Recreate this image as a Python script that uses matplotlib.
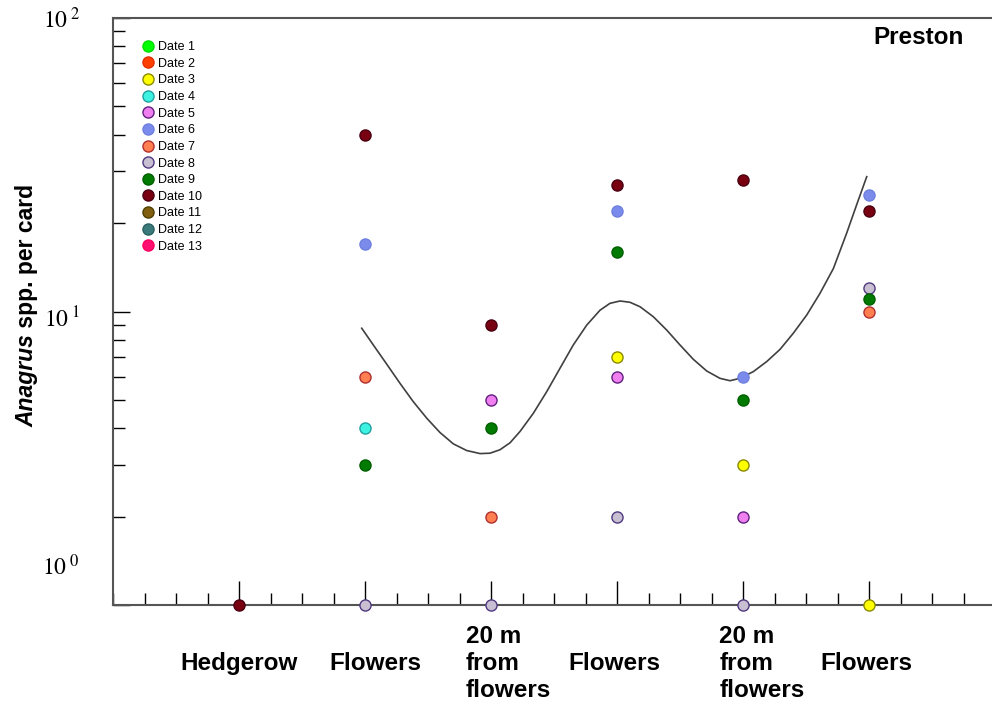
"""
Anagrus spp. per card at Preston, by trap location and sampling date.
"""

import numpy as np
import matplotlib
matplotlib.use("Agg")
import matplotlib.pyplot as plt
from matplotlib.ticker import FixedLocator, MultipleLocator, NullFormatter
import matplotlib.transforms as mtransforms

plt.rcParams["font.family"] = ["Liberation Sans", "DejaVu Sans"]
plt.rcParams["mathtext.fontset"] = "stix"

nan = np.nan

# trap positions along the transect
sites = [1, 2, 3, 4, 5, 6]
site_labels = ["Hedgerow", "Flowers", "20 m\nfrom\nflowers", "Flowers",
               "20 m\nfrom\nflowers", "Flowers"]

date_labels = [f"Date {i}" for i in range(1, 14)]

# Anagrus per card for each date (nan = no card shown)
date1_counts = [nan, nan, nan, nan, nan, nan]
date2_counts = [nan, nan, nan, nan, nan, nan]
date3_counts = [nan, nan, nan, 7, 3, 1]
date4_counts = [nan, 4, nan, nan, nan, nan]
date5_counts = [nan, nan, 5, 6, 2, nan]
date6_counts = [nan, 17, nan, 22, 6, 25]
date7_counts = [nan, 6, 2, nan, nan, 10]
date8_counts = [nan, 1, 1, 2, 1, 12]
date9_counts = [nan, 3, 4, 16, 5, 11]
date10_counts = [1, 40, 9, 27, 28, 22]
date11_counts = [nan, nan, nan, nan, nan, nan]
date12_counts = [nan, nan, nan, nan, nan, nan]
date13_counts = [nan, nan, nan, nan, nan, nan]

# fitted trend line
trend_x = [1.974, 2.066, 2.172, 2.278, 2.383, 2.490, 2.595, 2.701, 2.807,
           2.913, 2.992, 3.071, 3.151, 3.230, 3.336, 3.442, 3.548, 3.653,
           3.760, 3.865, 3.944, 4.024, 4.103, 4.183, 4.288, 4.394, 4.500,
           4.606, 4.712, 4.817, 4.897, 4.976, 5.082, 5.188, 5.294, 5.399,
           5.506, 5.611, 5.717, 5.823, 5.902, 5.982]
trend_y = [8.77, 7.69, 6.62, 5.69, 4.93, 4.33, 3.87, 3.54, 3.36, 3.28, 3.29,
           3.38, 3.57, 3.90, 4.50, 5.33, 6.41, 7.69, 8.99, 10.10, 10.66,
           10.86, 10.75, 10.38, 9.60, 8.65, 7.69, 6.87, 6.27, 5.92, 5.81,
           5.92, 6.24, 6.75, 7.43, 8.43, 9.73, 11.53, 14.0, 18.5, 23.1, 28.8]

face_colors = ["#00ff00", "#ff4000", "#ffff00", "#3ef2e2", "#f080f0",
               "#7b8beb", "#ff7f50", "#c8c0d2", "#007a00", "#780010",
               "#806010", "#3a7a7a", "#ff1070"]
edge_colors = ["#00dd00", "#e03000", "#8a8a00", "#20a0a0", "#602080",
               "#7080e0", "#b03030", "#503880", "#006000", "#4a0010",
               "#504000", "#2a6060", "#ff0060"]

all_counts = [date1_counts, date2_counts, date3_counts, date4_counts,
              date5_counts, date6_counts, date7_counts, date8_counts,
              date9_counts, date10_counts, date11_counts, date12_counts,
              date13_counts]

fig = plt.figure(figsize=(9.92, 7.13), dpi=100)
ax = fig.add_axes([113 / 992, 108 / 713, 879 / 992, 587 / 713])

ax.plot(trend_x, trend_y, color="#404040", lw=1.2, zorder=2)

for label, counts, fc, ec in zip(date_labels, all_counts, face_colors, edge_colors):
    ax.plot(sites, counts, "o", ls="none", ms=8, mfc=fc, mec=ec, mew=1.0,
            label=label, clip_on=False, zorder=3)

ax.set_yscale("log")
ax.set_ylim(1, 100)
ax.set_xlim(0, 879 / 126)

# spines
for side in ["top", "left", "bottom"]:
    ax.spines[side].set_color("#555555")
    ax.spines[side].set_linewidth(1.5)
ax.spines["right"].set_visible(False)

# ticks
ax.xaxis.set_major_locator(FixedLocator(sites))
ax.xaxis.set_minor_locator(MultipleLocator(0.25))
ax.xaxis.set_major_formatter(NullFormatter())
ax.tick_params(axis="x", which="major", direction="in", length=17, width=1,
               color="black", top=False)
ax.tick_params(axis="x", which="minor", direction="in", length=8.5, width=1,
               color="black", top=False)
ax.tick_params(axis="y", which="major", direction="in", length=12, width=1,
               color="black", labelleft=False, right=False)
ax.tick_params(axis="y", which="minor", direction="in", length=8.5, width=1,
               color="black", labelleft=False, right=False)
ax.yaxis.set_minor_formatter(NullFormatter())

# y tick labels (placed like the original, not quite on the ticks)
ylab_vals = [1, 10, 100]
ylab_texts = [r"$10^{\;0}$", r"$10^{\;1}$", r"$10^{\;2}$"]
ylab_dy = [27, -6, -2]
for v, t, dy in zip(ylab_vals, ylab_texts, ylab_dy):
    ax.annotate(t, xy=(0, v), xycoords=("axes fraction", "data"),
                xytext=(-24, dy), textcoords="offset points",
                ha="right", va="center", fontsize=17, annotation_clip=False)

# x category labels
site_label_x = [1.0, 2.08, 3.14, 3.98, 5.15, 5.98]
trans = mtransforms.blended_transform_factory(ax.transData, ax.transAxes)
for x, t in zip(site_label_x, site_labels):
    ax.text(x, -58.5 / 587, t, transform=trans, ha="center", va="center",
            multialignment="left", fontsize=17.5, fontweight="bold",
            linespacing=1.22)

# y axis label: italic genus + plain rest
t1 = fig.text(27 / 992, 1 - 427 / 713, "Anagrus", rotation=90, ha="center",
              va="bottom", fontsize=16.5, fontweight="bold", style="italic")
ax.annotate(" spp. per card", xy=(0.5, 1), xycoords=t1, rotation=90,
            ha="center", va="bottom", fontsize=16.5, fontweight="bold",
            annotation_clip=False)

ax.text(0.917, 0.966, "Preston", transform=ax.transAxes, ha="center",
        va="center", fontsize=17.5, fontweight="bold")

ax.legend(loc="upper left", bbox_to_anchor=(0.0336, 0.9606), frameon=False,
          fontsize=9, handlelength=0.8, handletextpad=0.4, labelspacing=0.37,
          borderpad=0, borderaxespad=0, markerscale=1.0)

fig.savefig("out.png", dpi=100)
